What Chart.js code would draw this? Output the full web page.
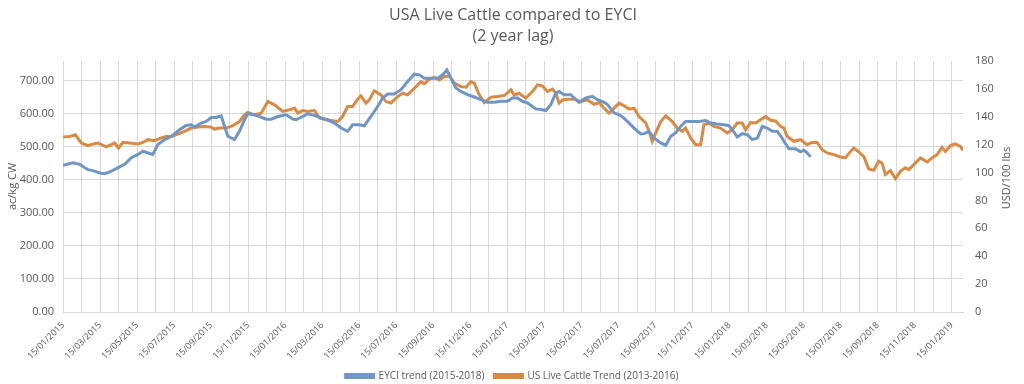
<!DOCTYPE html>
<html>
<head>
<meta charset="utf-8">
<script src="https://cdn.jsdelivr.net/npm/chart.js@4.4.1/dist/chart.umd.min.js"></script>
<style>
html,body{margin:0;padding:0;background:#fff}
#wrap{width:1024px;height:384px;position:relative}
</style>
</head>
<body>
<div id="wrap"><canvas id="c"></canvas></div>
<script>
// x = months after 15/01/2015
const eyciMonths = [0,0.54,0.9,1.35,1.62,1.98,2.25,2.52,2.97,3.33,3.69,4.05,4.31,4.68,4.85,5.12,5.49,5.85,6.29,6.65,6.93,7.1,7.46,7.73,8,8.27,8.54,8.9,9.26,9.53,9.8,
  9.98,10.34,10.61,10.97,11.24,11.6,12.05,12.41,12.59,12.94,13.21,13.48,13.75,13.94,14.29,14.65,15.02,15.37,15.64,16,16.27,16.63,16.99,17.26,17.53,17.89,18.25,18.61,18.97,19.24,19.51,
  19.87,20.23,20.5,20.73,20.95,21.22,21.49,21.84,22.21,22.57,22.92,23.28,23.65,24,24.27,24.54,24.81,25.08,25.35,25.53,25.8,26.07,26.34,26.61,26.79,27.06,27.42,27.6,27.87,28.23,28.59,28.86,29.22,
  29.4,29.76,30.12,30.48,30.84,31.2,31.38,31.64,31.91,32.28,32.55,32.82,33.08,33.35,33.62,33.98,34.34,34.7,34.97,35.33,35.69,35.96,36.14,36.41,36.68,36.95,37.22,37.5,37.76,38.03,38.3,38.57,
  38.83,38.93,39.2,39.56,39.83,40.01,40.18,40.37];
const eyciValues = [444,452,447,431,428,421,419,424,437,447,467,477,487,480,477,507,522,532,552,565,567,560,572,577,589,589,594,532,522,547,582,
  600,597,592,584,584,592,597,584,582,592,600,597,592,587,582,572,557,547,567,567,564,592,622,648,660,660,673,698,720,718,708,
  708,708,718,733,708,678,668,658,651,643,635,635,638,638,648,648,638,633,622,615,613,610,628,663,668,658,658,648,635,648,653,643,635,
  628,603,595,577,557,539,540,547,527,512,505,532,542,562,577,577,577,580,572,569,567,564,552,530,540,537,522,527,562,557,547,547,
  527,517,494,494,485,490,482,470];

const cattleMonths = [0,0.36,0.67,0.99,1.35,1.62,1.89,2.34,2.61,2.79,3,3.24,3.6,4.05,4.31,4.58,4.95,5.31,5.58,5.85,6.2,6.56,6.93,7.28,7.64,8,8.18,8.45,8.81,9.17,9.53,9.8,
  9.98,10.34,10.7,11.06,11.42,11.87,12.23,12.5,12.68,12.94,13.21,13.58,13.85,14.21,14.56,14.83,15.1,15.37,15.64,15.91,16.09,16.36,16.54,16.81,17.17,17.44,17.71,18.07,18.34,18.61,18.97,19.33,
  19.51,19.78,20.05,20.32,20.59,20.86,21.13,21.49,21.76,22.03,22.21,22.48,22.75,23.11,23.46,23.82,24.19,24.36,24.63,24.99,25.35,25.62,25.89,26.16,26.43,26.61,26.79,26.97,27.24,27.6,27.96,28.32,28.68,28.95,29.22,
  29.49,29.76,30.03,30.3,30.57,30.84,31.11,31.47,31.65,31.82,32.01,32.28,32.55,32.9,33.17,33.44,33.62,33.89,34.16,34.43,34.61,34.88,35.15,35.51,35.87,36.14,36.41,36.68,36.86,37.13,37.4,37.67,37.94,38.21,38.48,
  38.75,38.93,39.11,39.47,39.83,40.18,40.45,40.72,40.99,41.26,41.62,41.98,42.25,42.43,42.7,42.97,43.24,43.51,43.78,44.05,44.23,44.41,44.68,44.95,45.22,45.49,45.67,45.94,46.3,46.66,46.93,47.2,47.47,47.65,47.92,48.19,48.46,48.6];
const cattleValues = [125.5,125.9,127.1,121.2,119.3,120.5,121.2,118.4,120,121.2,117.6,121.6,121.2,120.5,121.6,123.6,122.9,124.8,125.9,125.9,127.6,129.5,131.9,132.6,133.1,132.6,131.2,131.9,131.9,133.6,136.6,141.4,
  143.1,141.4,142.6,150.9,148.6,143.8,145,146.2,142.6,144.5,143.8,144.5,139.1,137.9,137.1,136.6,140.2,147.4,147.4,152.6,155,149.8,152.1,158.6,155.7,150.9,149.8,154.5,156.9,155.7,160.5,165.2,
  163.6,166.9,168.4,166.4,168.8,169.3,164.1,161.6,161.2,165.2,164.1,155.7,150.2,154.1,154.5,155.2,159.3,155.7,156.9,153.4,158.1,162.9,162.1,158.1,159.8,156.9,149.8,152.1,152.6,152.6,150.9,152.1,149,150.2,146.2,
  142.6,146.2,149.8,147.9,145.5,146.2,140.2,135.5,129.5,122.4,128.4,136.6,140.7,136.6,131.9,129.5,131.9,124.8,120,120,134.3,135.5,133.1,131.9,128.4,130.7,135.5,135.5,130.7,135.9,135.5,137.9,140.2,137.5,137,
  133.1,131.9,125.9,122.4,123.6,120,121.6,121.6,116.4,114.1,112.9,111.2,110.5,113.6,117.6,114.8,111.6,102.6,101.6,108.1,106.9,98.6,101.4,95.7,100.9,103.4,102.1,105.7,110.5,107.6,110.5,112.9,118.1,115.2,119.3,120.5,118.8,115.9];

const leftTickValues = [0,100,200,300,400,500,600,700];
const rightMax = 180;
const leftMax = 760;
const xMax = 48.6;

const grey = '#595959';
const gridCol = '#d9d9d9';
const blue = '#6f96c6';
const orange = '#da8a42';

function pts(xs, ys){ return xs.map((x,i)=>({x, y: ys[i]})); }
function dateLabel(m){
  const mm = m % 12 + 1, yy = 2015 + Math.floor(m/12);
  return '15/' + String(mm).padStart(2,'0') + '/' + yy;
}

// chart titles + right axis title (bottom-to-top, like the reference)
const extraText = {
  id: 'extraText',
  afterDraw(chart){
    const ctx = chart.ctx;
    ctx.save();
    ctx.fillStyle = grey;
    ctx.textAlign = 'center';
    ctx.textBaseline = 'middle';
    ctx.font = '16px "Open Sans"';
    ctx.fillText('USA Live Cattle compared to EYCI', 513, 15);
    ctx.fillText('(2 year lag)', 513, 36);
    ctx.font = '11px "Open Sans"';
    ctx.translate(1007, 178);
    ctx.rotate(-Math.PI/2);
    ctx.fillText('USD/100 lbs', 0, 0);
    ctx.restore();
  }
};

new Chart(document.getElementById('c'), {
  type: 'line',
  data: {
    datasets: [
      { label: 'EYCI trend (2015-2018)', data: pts(eyciMonths, eyciValues), yAxisID: 'y',
        borderColor: blue, backgroundColor: blue, borderWidth: 3, pointRadius: 0, tension: 0 },
      { label: 'US Live Cattle Trend (2013-2016)', data: pts(cattleMonths, cattleValues), yAxisID: 'y2',
        borderColor: orange, backgroundColor: orange, borderWidth: 3, pointRadius: 0, tension: 0 }
    ]
  },
  options: {
    responsive: true, maintainAspectRatio: false, animation: false,
    layout: { padding: { top: 61, left: 0, right: 0, bottom: -7 } },
    plugins: {
      title: { display: false },
      tooltip: { enabled: false },
      legend: {
        position: 'bottom',
        labels: { color: grey, font: { family: 'Open Sans', size: 10 }, boxWidth: 28, boxHeight: 3, padding: 10 }
      }
    },
    scales: {
      x: {
        type: 'linear', min: 0, max: xMax,
        grid: { color: gridCol, drawTicks: false },
        border: { color: gridCol },
        afterFit(s){ s.height = 49; },
        ticks: {
          stepSize: 1, autoSkip: false, includeBounds: false, minRotation: 45, maxRotation: 45, padding: 8,
          color: grey, font: { family: 'Open Sans', size: 9 },
          callback(v){ return (Number.isInteger(v) && v % 2 === 0) ? dateLabel(v) : ''; }
        }
      },
      y: {
        position: 'left', min: 0, max: leftMax,
        grid: { color: gridCol, drawTicks: false },
        border: { display: false },
        afterFit(s){ s.width = 63; },
        afterBuildTicks(s){ s.ticks = leftTickValues.map(v => ({ value: v })); },
        title: { display: true, text: 'ac/kg CW', color: grey, font: { family: 'Open Sans', size: 11 }, padding: { top: 6, bottom: 0 } },
        ticks: { color: grey, font: { family: 'Open Sans', size: 11 }, padding: 9, callback: v => v.toFixed(2) }
      },
      y2: {
        position: 'right', min: 0, max: rightMax,
        grid: { display: false, drawTicks: false },
        border: { display: false },
        afterFit(s){ s.width = 61; },
        ticks: { stepSize: 20, color: grey, font: { family: 'Open Sans', size: 11 }, padding: 12 }
      }
    }
  },
  plugins: [extraText]
});
</script>
</body>
</html>
